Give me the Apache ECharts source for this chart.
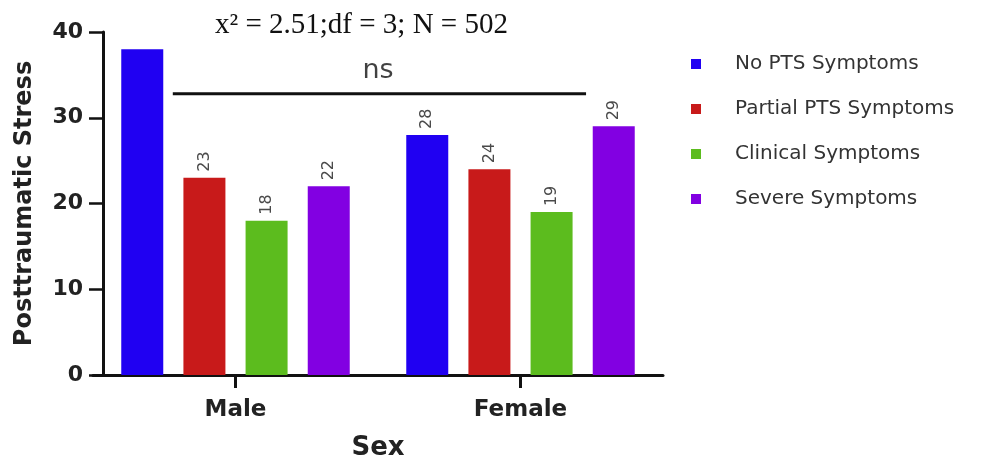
<!DOCTYPE html>
<html><head><meta charset="utf-8">
<script src="https://cdn.jsdelivr.net/npm/echarts@6/dist/echarts.min.js"></script>
<style>html,body{margin:0;padding:0;background:#fff}#c{width:983px;height:463px}</style>
</head><body><div id="c"></div>
<script>
const categories = ['Male', 'Female'];
const seriesNames = ['No PTS Symptoms', 'Partial PTS Symptoms', 'Clinical Symptoms', 'Severe Symptoms'];
const noPts = [38, 28];
const partialPts = [23, 24];
const clinical = [18, 19];
const severe = [22, 29];
const yTicks = [0, 10, 20, 30, 40];
const statText = 'x² = 2.51;df = 3; N = 502';
const sigLabel = 'ns';
// significance bracket in category units (0..2) and y value
const sigLineX = [0.28, 1.73];
const sigLineY = 32.8;
const sigLabelPos = [1.0, 35.4];
const hideLabelFor = 38;

const colors = ['#2000f2', '#c81a1a', '#5cbc1e', '#8200e2'];
const vals = [noPts, partialPts, clinical, severe];
const sans = 'DejaVu Sans';

const barSeries = vals.map((arr, i) => ({
  name: seriesNames[i],
  type: 'bar',
  barWidth: 42,
  barGap: '48%',
  itemStyle: { color: colors[i] },
  label: {
    show: true, position: 'top', rotate: 90, distance: 6,
    align: 'left', verticalAlign: 'middle',
    fontFamily: sans, fontSize: 16, color: '#4a4a4a'
  },
  data: arr.map(v => v === hideLabelFor ? { value: v, label: { show: false } } : v)
}));

const chart = echarts.init(document.getElementById('c'));
chart.setOption({
  animation: false,
  backgroundColor: '#fff',
  title: {
    text: statText, left: 210, top: 6,
    textStyle: { fontFamily: 'Liberation Serif, Times New Roman', fontSize: 29, fontWeight: 'normal', color: '#111' }
  },
  legend: {
    orient: 'vertical', left: 686, top: 49, itemGap: 25,
    itemWidth: 10, itemHeight: 10, icon: 'rect',
    data: seriesNames,
    textStyle: { fontFamily: sans, fontSize: 20, color: '#333', padding: [0, 0, 0, 29] }
  },
  grid: { left: 93, top: 32, width: 570, height: 343, containLabel: false, outerBoundsMode: 'none' },
  xAxis: [{
    type: 'category', data: categories,
    axisLine: { show: true, lineStyle: { color: '#111', width: 3 } },
    axisTick: { show: true, alignWithLabel: true, interval: 0, length: 13, lineStyle: { width: 3, color: '#111' } },
    axisLabel: { fontFamily: sans, fontWeight: 'bold', fontSize: 23, color: '#222', margin: 24 },
    name: 'Sex', nameLocation: 'middle', nameGap: 60,
    nameTextStyle: { fontFamily: sans, fontWeight: 'bold', fontSize: 26, color: '#222' }
  }, {
    type: 'value', min: 0, max: 2, show: false
  }],
  yAxis: {
    type: 'value', min: 0, max: 40, interval: 10, offset: -10,
    axisLine: { show: true, lineStyle: { color: '#111', width: 3 } },
    axisTick: { show: true, length: 14, lineStyle: { width: 2.5, color: '#111' } },
    splitLine: { show: false },
    axisLabel: { fontFamily: sans, fontWeight: 'bold', fontSize: 22, color: '#222', margin: 20,
      formatter: v => yTicks.includes(v) ? String(v) : '' },
    name: 'Posttraumatic Stress', nameLocation: 'middle', nameGap: 66,
    nameTextStyle: { fontFamily: sans, fontWeight: 'bold', fontSize: 24, color: '#222' }
  },
  series: barSeries.concat([
    {
      type: 'line', xAxisIndex: 1, symbol: 'none', silent: true,
      lineStyle: { color: '#111', width: 3 },
      data: sigLineX.map(x => [x, sigLineY])
    },
    {
      type: 'scatter', xAxisIndex: 1, symbolSize: 0, silent: true,
      label: { show: true, position: 'inside', formatter: sigLabel,
        fontFamily: sans, fontSize: 27, color: '#111', textBorderWidth: 0 },
      data: [sigLabelPos]
    }
  ])
});
</script></body></html>
